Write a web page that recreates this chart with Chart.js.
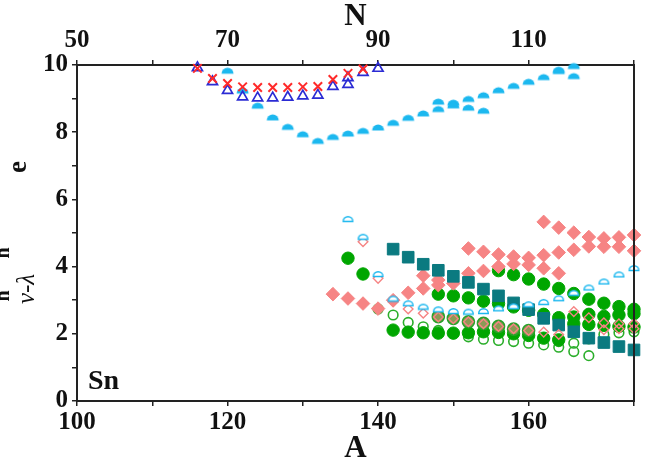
<!DOCTYPE html>
<html>
<head>
<meta charset="utf-8">
<script src="https://cdn.jsdelivr.net/npm/chart.js@4.4.1/dist/chart.umd.min.js"></script>
<style>
  html, body { margin: 0; padding: 0; background: #fff; }
  #wrap { width: 653px; height: 459px; }
</style>
</head>
<body>
<div id="wrap"><canvas id="chart" width="653" height="459"></canvas></div>
<script>
// ---- data (x = mass number A, y = energy) ----
// upper branch
const crossA = [116, 118, 120, 122, 124, 126, 128, 130, 132, 134, 136, 138];
const crossY = [9.9, 9.6, 9.45, 9.35, 9.33, 9.33, 9.33, 9.35, 9.36, 9.57, 9.75, 9.88];
const triA = [116, 118, 120, 122, 124, 126, 128, 130, 132, 134, 136, 136, 138, 140];
const triY = [9.92, 9.5, 9.24, 9.05, 9.02, 9.02, 9.04, 9.08, 9.1, 9.36, 9.42, 9.62, 9.78, 9.9];
const skyA = [120, 122, 124, 126, 128, 130, 132, 134, 136, 138, 140, 142, 144, 146, 148, 150, 152, 154, 156, 158, 160, 162, 164, 166];
const skyY = [9.83, 9.24, 8.79, 8.44, 8.16, 7.94, 7.74, 7.86, 7.96, 8.04, 8.14, 8.28, 8.43, 8.56, 8.69, 8.8, 8.99, 9.1, 9.25, 9.38, 9.5, 9.64, 9.82, 9.97];
const sky2A = [148, 150, 152, 154, 164, 166];
const sky2Y = [8.91, 8.88, 8.73, 8.64, 9.86, 9.67];

// lower branch
const skyOpenA = [136, 138, 140, 142, 144, 146, 148, 150, 152, 154, 156, 158, 160, 162, 164, 166, 168, 170, 172, 174];
const skyOpenY = [5.42, 4.89, 3.78, 3.05, 2.91, 2.81, 2.73, 2.68, 2.66, 2.68, 2.76, 2.82, 2.88, 2.95, 3.06, 3.22, 3.38, 3.56, 3.77, 3.96];
const pinkOpenA = [138, 140, 142, 144, 146, 148, 150, 152, 154, 156, 158, 160, 162, 164];
const pinkOpenY = [4.74, 3.65, 2.95, 2.74, 2.61, 2.5, 2.45, 2.36, 2.3, 2.22, 2.15, 2.1, 2.05, 1.98];
const pinkOpen2A = [166, 168, 170, 172, 174];
const pinkOpen2Y = [2.66, 2.48, 2.33, 2.3, 2.3];
const pinkOpen3A = [170, 172, 174];
const pinkOpen3Y = [2.12, 2.15, 2.15];

const tealA = [142, 144, 146, 148, 150, 152, 154, 156, 158, 160, 162, 164, 166, 168, 170, 172, 174];
const tealY = [4.52, 4.28, 4.07, 3.89, 3.71, 3.53, 3.33, 3.13, 2.92, 2.72, 2.46, 2.26, 2.06, 1.87, 1.74, 1.62, 1.52];

const pink1A = [134, 136, 138, 140];
const pink1Y = [3.18, 3.05, 2.9, 2.75];
const pink2A = [142, 144, 146, 148, 150];
const pink2Y = [3.0, 3.22, 3.35, 3.45, 3.5];
const pink3A = [146, 148, 152, 154, 156, 158, 160, 162, 164];
const pink3Y = [3.73, 3.6, 3.8, 3.87, 4.0, 4.08, 4.05, 3.95, 3.8];
const pink4A = [152, 154, 156, 158, 160, 162, 164, 166, 168, 170, 172, 174];
const pink4Y = [4.54, 4.44, 4.36, 4.3, 4.26, 4.34, 4.42, 4.5, 4.6, 4.59, 4.59, 4.47];
const pink5A = [162, 164, 166, 168, 170, 172, 174];
const pink5Y = [5.33, 5.16, 5.01, 4.88, 4.84, 4.87, 4.94];

const oliveA = [148, 150, 152, 154, 156, 158, 160];
const oliveY = [2.51, 2.46, 2.36, 2.31, 2.22, 2.14, 2.1];

const green0A = [136, 138];
const green0Y = [4.25, 3.78];
const greenTopA = [156, 158, 160, 162, 164, 166, 168, 170, 172, 174];
const greenTopY = [3.88, 3.76, 3.63, 3.48, 3.35, 3.2, 3.03, 2.91, 2.81, 2.73];
const greenMidA = [148, 150, 152, 154, 156, 158, 160, 162, 164, 166, 168, 170, 172, 174];
const greenMidY = [3.18, 3.13, 3.07, 2.97, 2.9, 2.8, 2.7, 2.58, 2.48, 2.5, 2.58, 2.52, 2.56, 2.6];
const greenLowA = [142, 144, 146, 148, 150, 152, 154, 156, 158, 160, 162, 164];
const greenLowY = [2.11, 2.05, 2.03, 2.02, 2.02, 2.03, 2.06, 2.04, 2.0, 1.95, 1.87, 1.82];
const greenLow2A = [166, 168, 170, 172, 174];
const greenLow2Y = [2.3, 2.28, 2.25, 2.22, 2.2];

const greenOpenA = [140, 142, 144, 146, 148, 150, 152, 154, 156, 158, 160, 162, 164, 166, 168];
const greenOpenY = [2.74, 2.56, 2.34, 2.21, 2.1, 2.0, 1.91, 1.84, 1.8, 1.77, 1.72, 1.67, 1.6, 1.47, 1.35];
const greenOpen2A = [162, 164, 166, 168, 170, 172, 174];
const greenOpen2Y = [1.87, 1.77, 1.72, 1.85, 1.98, 2.03, 2.06];

// ---- colours ----
const RED = '#ff2a2a';
const BLUE = '#2b2bd4';
const SKY = '#1cb8ef';
const TEAL = '#0b7a80';
const PINK = '#f68484';
const GREEN = '#00a600';
const SERIF = '"Liberation Serif", "Times New Roman", serif';

function pts(xs, ys) {
    return xs.map((x, i) => ({ x: x, y: ys[i] }));
}

// half-disc marker (flat side down), filled or open
function halfDisc(color, r, filled) {
    const c = document.createElement('canvas');
    c.width = Math.ceil(2 * r + 3);
    c.height = Math.ceil(r + 3);
    const g = c.getContext('2d');
    g.beginPath();
    g.arc(c.width / 2, c.height - 1.5, r, Math.PI, 2 * Math.PI);
    g.closePath();
    if (filled) {
        g.fillStyle = color;
        g.fill();
    } else {
        g.fillStyle = '#fff';
        g.fill();
        g.strokeStyle = color;
        g.lineWidth = 1.4;
        g.stroke();
    }
    return c;
}

const skyFilled = halfDisc(SKY, 6, true);
const skyHollow = halfDisc(SKY, 4.8, false);

function ds(xs, ys, o) {
    return Object.assign({ data: pts(xs, ys), clip: false, pointHoverRadius: 0 }, o);
}

// first dataset is drawn on top
const datasets = [
    ds(crossA, crossY, { pointStyle: 'crossRot', radius: 6, borderColor: RED, borderWidth: 2 }),
    ds(triA, triY, { pointStyle: 'triangle', radius: 5.8, borderColor: BLUE, backgroundColor: 'rgba(0,0,0,0)', borderWidth: 1.7 }),
    ds(skyA, skyY, { pointStyle: skyFilled }),
    ds(sky2A, sky2Y, { pointStyle: skyFilled }),
    ds(skyOpenA, skyOpenY, { pointStyle: skyHollow }),
    ds(pinkOpenA, pinkOpenY, { pointStyle: 'rectRot', radius: 4.8, borderColor: PINK, backgroundColor: 'rgba(0,0,0,0)', borderWidth: 1.4 }),
    ds(pinkOpen2A, pinkOpen2Y, { pointStyle: 'rectRot', radius: 4.8, borderColor: PINK, backgroundColor: 'rgba(0,0,0,0)', borderWidth: 1.4 }),
    ds(pinkOpen3A, pinkOpen3Y, { pointStyle: 'rectRot', radius: 4.8, borderColor: PINK, backgroundColor: 'rgba(0,0,0,0)', borderWidth: 1.4 }),
    ds(tealA, tealY, { pointStyle: 'rect', radius: 8.2, borderColor: TEAL, backgroundColor: TEAL, borderWidth: 1 }),
    ds(pink1A, pink1Y, { pointStyle: 'rectRot', radius: 6.8, borderColor: PINK, backgroundColor: PINK, borderWidth: 1 }),
    ds(pink2A, pink2Y, { pointStyle: 'rectRot', radius: 6.8, borderColor: PINK, backgroundColor: PINK, borderWidth: 1 }),
    ds(pink3A, pink3Y, { pointStyle: 'rectRot', radius: 6.8, borderColor: PINK, backgroundColor: PINK, borderWidth: 1 }),
    ds(pink4A, pink4Y, { pointStyle: 'rectRot', radius: 6.8, borderColor: PINK, backgroundColor: PINK, borderWidth: 1 }),
    ds(pink5A, pink5Y, { pointStyle: 'rectRot', radius: 6.8, borderColor: PINK, backgroundColor: PINK, borderWidth: 1 }),
    ds(oliveA, oliveY, { pointStyle: 'circle', radius: 6, borderColor: '#2aa02a', backgroundColor: '#8c9a55', borderWidth: 1.6 }),
    ds(green0A, green0Y, { pointStyle: 'circle', radius: 6.2, borderColor: GREEN, backgroundColor: GREEN, borderWidth: 1 }),
    ds(greenTopA, greenTopY, { pointStyle: 'circle', radius: 6.2, borderColor: GREEN, backgroundColor: GREEN, borderWidth: 1 }),
    ds(greenMidA, greenMidY, { pointStyle: 'circle', radius: 6.2, borderColor: GREEN, backgroundColor: GREEN, borderWidth: 1 }),
    ds(greenLowA, greenLowY, { pointStyle: 'circle', radius: 6.2, borderColor: GREEN, backgroundColor: GREEN, borderWidth: 1 }),
    ds(greenLow2A, greenLow2Y, { pointStyle: 'circle', radius: 6.2, borderColor: GREEN, backgroundColor: GREEN, borderWidth: 1 }),
    ds(greenOpenA, greenOpenY, { pointStyle: 'circle', radius: 4.8, borderColor: '#2aae2a', backgroundColor: 'rgba(0,0,0,0)', borderWidth: 1.6 }),
    ds(greenOpen2A, greenOpen2Y, { pointStyle: 'circle', radius: 4.8, borderColor: '#2aae2a', backgroundColor: 'rgba(0,0,0,0)', borderWidth: 1.6 })
];

const tickFont = { family: SERIF, size: 25, weight: 'bold' };
const axisGrid = { display: true, drawOnChartArea: false, drawTicks: true, tickLength: 5, color: '#222', lineWidth: 1.5 };
const axisBorder = { display: true, color: '#222', width: 2 };

// frame on the right, axis titles and the "Sn" tag
const decor = {
    id: 'decor',
    afterDraw(chart) {
        const ctx = chart.ctx;
        const a = chart.chartArea;
        ctx.save();
        ctx.strokeStyle = '#222';
        ctx.lineWidth = 2;
        ctx.beginPath();
        ctx.moveTo(a.right, a.top - 1);
        ctx.lineTo(a.right, a.bottom + 1);
        ctx.stroke();

        ctx.fillStyle = '#111';
        ctx.textAlign = 'center';
        ctx.textBaseline = 'middle';
        ctx.font = 'bold 31px ' + SERIF;
        ctx.fillText('N', (a.left + a.right) / 2, 17);
        ctx.fillText('A', (a.left + a.right) / 2, 449);
        ctx.textAlign = 'left';
        ctx.font = 'bold 28px ' + SERIF;
        ctx.fillText('Sn', a.left + 11, 382);

        // y title, cut off by the left edge of the figure
        ctx.rotate(-Math.PI / 2);
        ctx.textAlign = 'center';
        ctx.font = 'bold 27px ' + SERIF;
        ctx.fillText('e', -167, 19);
        ctx.font = 'italic 25px ' + SERIF;
        ctx.fillText('\u03bd-\u03bb', -289, 27);
        ctx.font = 'bold 20px ' + SERIF;
        ctx.fillText('n', -253, 4);
        ctx.fillText('n', -296, 4);
        ctx.restore();
    }
};

const config = {
    type: 'scatter',
    data: { datasets: datasets },
    options: {
        responsive: false,
        animation: false,
        devicePixelRatio: 1,
        layout: { padding: { top: 0, right: 19, bottom: 0, left: 0 } },
        plugins: { legend: { display: false }, tooltip: { enabled: false } },
        scales: {
            x: {
                type: 'linear', position: 'bottom', min: 100, max: 174,
                afterFit: (s) => { s.height = 58; },
                ticks: {
                    stepSize: 10, autoSkip: false, maxRotation: 0, padding: 2, color: '#111', font: tickFont,
                    callback: (v) => (v % 20 === 0 ? v : '')
                },
                grid: axisGrid, border: axisBorder
            },
            x2: {
                type: 'linear', position: 'top', min: 50, max: 124,
                afterFit: (s) => { s.height = 65; },
                ticks: {
                    stepSize: 10, autoSkip: false, maxRotation: 0, padding: 4, color: '#111', font: tickFont,
                    callback: (v) => ((v - 50) % 20 === 0 && v < 120 ? v : '')
                },
                grid: axisGrid, border: axisBorder
            },
            y: {
                type: 'linear', position: 'left', min: 0, max: 10,
                afterFit: (s) => { s.width = 77; },
                ticks: {
                    stepSize: 1, autoSkip: false, padding: 4, color: '#111', font: tickFont,
                    callback: (v) => (v % 2 === 0 ? v : '')
                },
                grid: axisGrid, border: axisBorder
            }
        }
    },
    plugins: [decor]
};

window.onload = function() {
    const ctx = document.getElementById('chart').getContext('2d');
    window.myChart = new Chart(ctx, config);
};
</script>
</body>
</html>
